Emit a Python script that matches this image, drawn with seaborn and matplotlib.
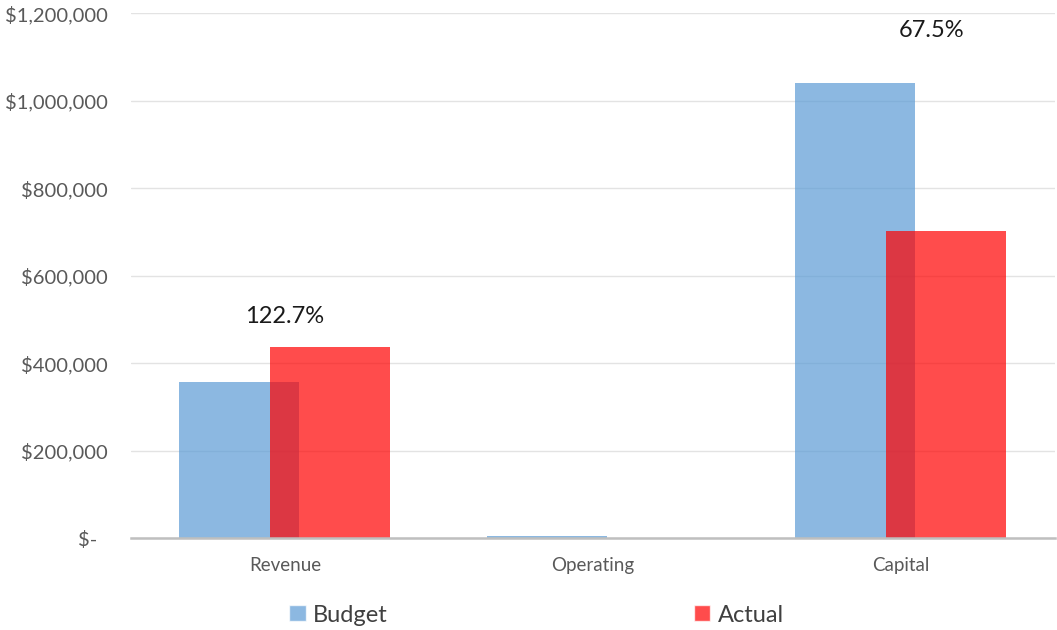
import numpy as np
import pandas as pd
import matplotlib.pyplot as plt
import seaborn as sns
from matplotlib.patches import Patch

# data
categories = ['Revenue', 'Operating', 'Capital']
budget = [356000, 5000, 1040000]
actual = [436800, 0, 702000]
pct_labels = ['122.7%', '', '67.5%']
# label anchor (category offset, y value) for the % labels
label_pos = [(0.0, 507000), (1.0, 0), (2.1, 1161000)]

BLUE = '#5B9BD5'
RED = '#FF0000'

sns.set_style('white')
plt.rcParams['font.family'] = ['Lato', 'DejaVu Sans']

pos = np.arange(len(categories))
df_b = pd.DataFrame({'x': pos - 0.15, 'val': budget})
df_a = pd.DataFrame({'x': pos + 0.147, 'val': actual})

fig = plt.figure(figsize=(10.57, 6.30), dpi=100)
ax = fig.add_axes([0.124, 0.146, 0.874, 0.833])

sns.barplot(data=df_b, x='x', y='val', native_scale=True, orient='x',
            width=0.39, color=BLUE, alpha=0.7, saturation=1, errorbar=None,
            ax=ax, zorder=2)
sns.barplot(data=df_a, x='x', y='val', native_scale=True, orient='x',
            width=0.39, color=RED, alpha=0.7, saturation=1, errorbar=None,
            ax=ax, zorder=3)
for p in ax.patches:
    p.set_edgecolor('none')

ax.set_xlim(-0.5, 2.5)
ax.set_ylim(0, 1200000)
ax.set_xticks(pos)
ax.set_xticklabels(categories)
yt = np.arange(0, 1200001, 200000)
ax.set_yticks(yt)
ax.set_yticklabels(['$-  ' if v == 0 else f'${v:,.0f}' for v in yt])
ax.tick_params(axis='y', length=0, labelsize=14.5, labelcolor='#595959', pad=17)
ax.tick_params(axis='x', length=0, labelsize=13.5, labelcolor='#595959', pad=14)
ax.set_xlabel('')
ax.set_ylabel('')

ax.grid(axis='y', color='#E3E3E3', linewidth=1, zorder=0)
ax.set_axisbelow(True)
for s in ['top', 'right', 'left']:
    ax.spines[s].set_visible(False)
ax.spines['bottom'].set_color('#BFBFBF')
ax.spines['bottom'].set_linewidth(1.8)
ax.spines['bottom'].set_zorder(4)

for txt, (dx, yv) in zip(pct_labels, label_pos):
    if txt:
        ax.text(dx, yv, txt, ha='center', va='center', fontsize=17,
                color='#1A1A1A')

handles = [Patch(facecolor=BLUE, alpha=0.7, label='Budget'),
           Patch(facecolor=RED, alpha=0.7, label='Actual')]
fig.legend(handles=handles, loc='center', bbox_to_anchor=(536.5 / 1057, 1 - 615 / 630),
           ncol=2, frameon=False, fontsize=17, handlelength=0.68, handleheight=0.68,
           handletextpad=0.3, columnspacing=13.0, labelcolor='#404040')

fig.savefig('out.png', dpi=100)
